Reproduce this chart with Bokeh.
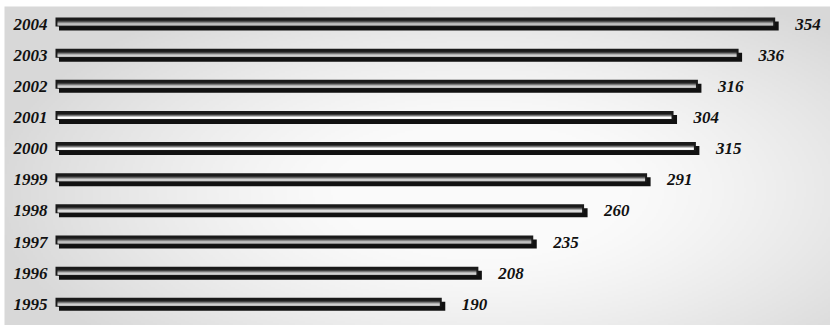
import numpy as np
from bokeh.plotting import figure
from bokeh.models import ColumnDataSource, Range1d
from bokeh.transform import dodge
from bokeh.core.properties import value
from bokeh.embed import file_html
from bokeh.resources import INLINE

# Yearly totals, newest first
years = [2004, 2003, 2002, 2001, 2000, 1999, 1998, 1997, 1996, 1995]
counts = [354, 336, 316, 304, 315, 291, 260, 235, 208, 190]
count_labels = [str(c) for c in counts]
year_labels = [str(y) for y in years]

W, H = 830, 325
X0_PX = 55            # pixel where the bars start
PX_X = 1 / 2.033      # data units per horizontal pixel
PX_Y = 1 / 31.14      # data units per vertical pixel (one row per year)

x_lo, x_hi = -X0_PX * PX_X, (W - X0_PX) * PX_X
y_lo, y_hi = 1995 - (H - 301.8) * PX_Y, 2004 + 21.5 * PX_Y

p = figure(width=W, height=H, x_range=Range1d(x_lo, x_hi), y_range=Range1d(y_lo, y_hi),
           x_axis_type=None, y_axis_type=None, output_backend="svg",
           toolbar_location=None, min_border=0)
p.outline_line_color = None
p.background_fill_color = "white"
p.border_fill_color = "white"

# soft grey backdrop, lightest towards the middle-right
iw, ih = W // 2, H // 2 + 1
gx, gy = np.meshgrid(np.arange(iw) * 2.0, np.arange(ih) * 2.0)
d = np.sqrt(((gx - 480) / 430) ** 2 + ((gy - 190) / 200) ** 2)
shade = 250 - 34 * np.clip((d - 0.35) / 0.8, 0, 1) ** 1.2
shade[gy < 6] = 255
shade[gx < 3] = 255
shade = shade[::-1].astype(np.uint8)
img = np.empty((ih, iw), dtype=np.uint32)
view = img.view(dtype=np.uint8).reshape((ih, iw, 4))
view[..., 0] = shade
view[..., 1] = shade
view[..., 2] = shade
view[..., 3] = 255
p.image_rgba(image=[img], x=x_lo, y=y_lo, dw=x_hi - x_lo, dh=y_hi - y_lo)

src = ColumnDataSource(dict(year=years, count=counts, zero=[0] * len(years),
                            label=count_labels, ylabel=year_labels))


def band(dy_px, h_px, dl_px, dr_px, color):
    p.hbar(y=dodge("year", dy_px * PX_Y), left=dodge("zero", dl_px * PX_X),
           right=dodge("count", dr_px * PX_X), height=h_px * PX_Y,
           fill_color=color, line_color=None, source=src)


# drop shadow, dark body, then the shiny lower stripe
band(-4, 9, 3.5, 3.5, "#111111")
band(0, 9, 0, 0, "#1a1a1a")
for k, col in [(3, "#3a3a3a"), (4, "#787878"), (5, "#c4c4c4"), (6, "#ffffff"), (7, "#f4f4f4")]:
    band(4 - k, 1.02, 2, -2, col)

font = value("Liberation Serif")
p.text(x=dodge("zero", -8 * PX_X), y=dodge("year", -2 * PX_Y), text="ylabel", source=src,
       text_align="right", text_baseline="alphabetic", text_font=font,
       text_font_style="bold italic", text_font_size="17px", text_color="#111111")
p.text(x=dodge("count", 20 * PX_X), y=dodge("year", -2 * PX_Y), text="label", source=src,
       text_align="left", text_baseline="alphabetic", text_font=font,
       text_font_style="bold italic", text_font_size="17px", text_color="#111111")

open("out.html", "w").write(file_html(p, INLINE))
